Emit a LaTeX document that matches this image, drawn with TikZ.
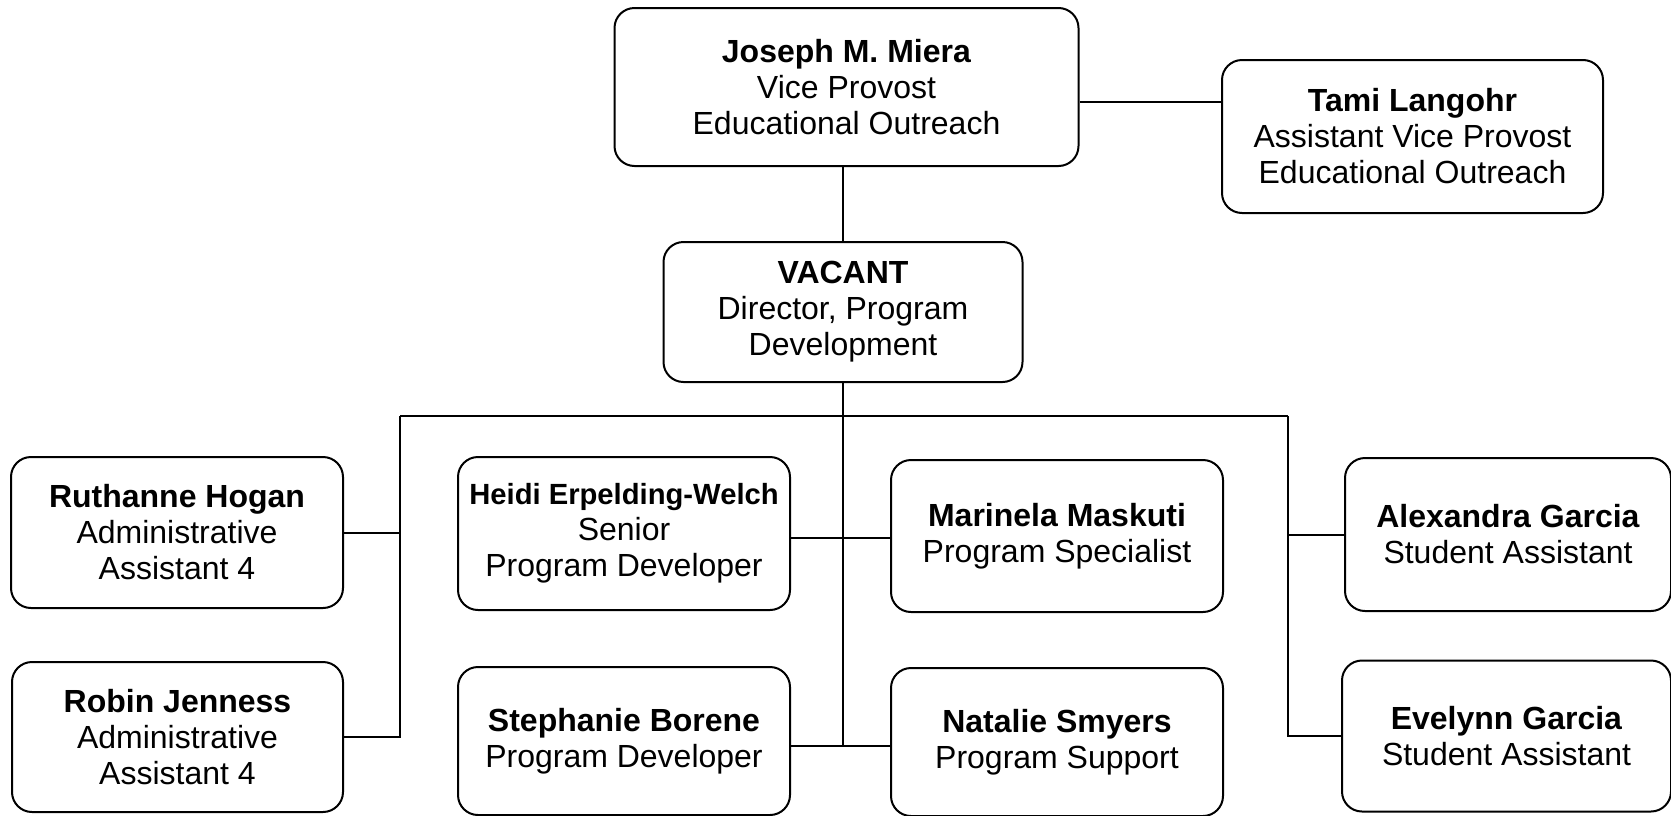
\documentclass[tikz,border=0pt]{standalone}
\usepackage{fontspec}
\setmainfont{Liberation Sans}
\usetikzlibrary{positioning}

\tikzset{
  person/.style={draw, line width=1pt, rounded corners=10pt, align=center,
    inner sep=0pt, font=\fontsize{16}{18}\selectfont},
  link/.style={line width=1pt}
}
\newcommand{\who}[1]{\textbf{#1}}

\begin{document}
\begin{tikzpicture}[x=0.5pt, y=-0.5pt]
  \useasboundingbox (0,0) rectangle (1671,815);

  % Top level
  \node[person, minimum width=232pt, minimum height=79pt] (joseph) at (846.5,87)
    {\who{Joseph M. Miera}\\Vice Provost\\Educational Outreach};
  \node[person, minimum width=190.5pt, minimum height=76.5pt] (tami) at (1412.5,136.5)
    {\who{Tami Langohr}\\Assistant Vice Provost\\Educational Outreach};

  % Director
  \node[person, minimum width=179.5pt, minimum height=70pt] (vacant) at (843,312)
    {\who{VACANT}\\Director, Program\\Development};

  % Left column
  \node[person, minimum width=166pt, minimum height=75.5pt] (ruthanne) at (177,532.5)
    {\who{Ruthanne Hogan}\\Administrative\\Assistant 4};
  \node[person, minimum width=165.5pt, minimum height=75pt] (robin) at (177.5,737)
    {\who{Robin Jenness}\\Administrative\\Assistant 4};

  % Middle columns
  \node[person, minimum width=166pt, minimum height=76.5pt] (heidi) at (624,533.5)
    {{\fontsize{14.6}{18}\selectfont\who{Heidi Erpelding-Welch}}\\Senior\\Program Developer};
  \node[person, minimum width=166pt, minimum height=76pt] (marinela) at (1057,536)
    {\who{Marinela Maskuti}\\Program Specialist};
  \node[person, minimum width=166pt, minimum height=74pt] (stephanie) at (624,741)
    {\who{Stephanie Borene}\\Program Developer};
  \node[person, minimum width=166pt, minimum height=74pt] (natalie) at (1057,742)
    {\who{Natalie Smyers}\\Program Support};

  % Right column
  \node[person, minimum width=163pt, minimum height=76.5pt] (alexandra) at (1508,534.5)
    {\who{Alexandra Garcia}\\Student Assistant};
  \node[person, minimum width=164.5pt, minimum height=75.5pt] (evelynn) at (1506.5,736)
    {\who{Evelynn Garcia}\\Student Assistant};

  % Bus points
  \coordinate (jt) at (1150,102);
  \coordinate (busL) at (400,416);
  \coordinate (busR) at (1288,416);
  \coordinate (hm) at (843,538);
  \coordinate (sn) at (843,746);

  % Connectors
  \draw[link] (joseph.east |- jt) -- (tami.west |- jt);
  \draw[link] (vacant.north) -- (vacant.north |- joseph.south);
  \draw[link] (vacant.south) -- (sn);
  \draw[link] (busL) -- (busR);
  \draw[link] (ruthanne.east) -| (busL) |- (robin.east);
  \draw[link] (alexandra.west) -| (busR) |- (evelynn.west);
  \draw[link] (heidi.east |- hm) -- (marinela.west |- hm);
  \draw[link] (stephanie.east |- sn) -- (natalie.west |- sn);
\end{tikzpicture}
\end{document}
